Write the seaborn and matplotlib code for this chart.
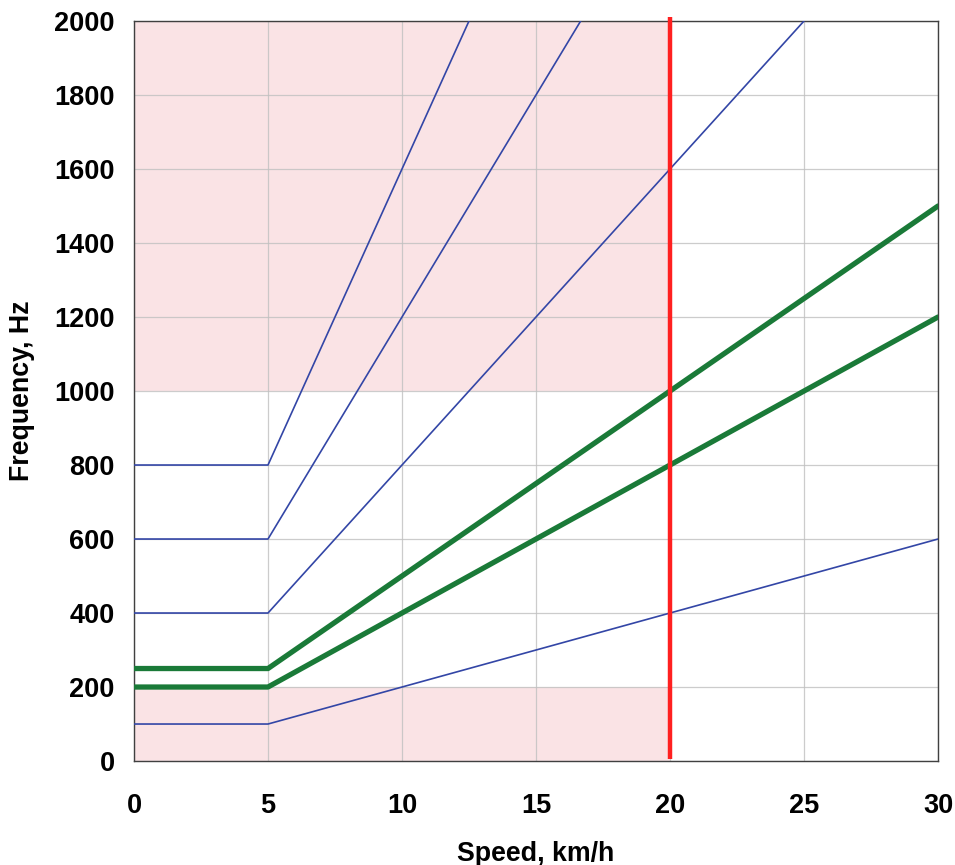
import numpy as np
import pandas as pd
import matplotlib
matplotlib.use("Agg")
import matplotlib.pyplot as plt
import seaborn as sns

# Speed break points (km/h) and frequency of each harmonic line (Hz)
speed = [0, 5, 30]
blue_series = {
    "h8": [800, 800, 4800],
    "h6": [600, 600, 3600],
    "h4": [400, 400, 2400],
    "h1": [100, 100, 600],
}
green_series = {
    "g25": [250, 250, 1500],
    "g2": [200, 200, 1200],
}
x_ticks = [0, 5, 10, 15, 20, 25, 30]
y_ticks = [0, 200, 400, 600, 800, 1000, 1200, 1400, 1600, 1800, 2000]
speed_limit = 20
band_low = (0, 200)
band_high = (1000, 2000)

rows = []
for name, vals in {**blue_series, **green_series}.items():
    for s, f in zip(speed, vals):
        rows.append({"speed": s, "freq": f, "line": name,
                     "kind": "green" if name in green_series else "blue"})
df = pd.DataFrame(rows)

sns.set_theme(style="white")
plt.rcParams["font.family"] = ["Liberation Sans", "DejaVu Sans"]
plt.rcParams["text.color"] = "black"
plt.rcParams["xtick.color"] = "black"
plt.rcParams["ytick.color"] = "black"
plt.rcParams["axes.labelcolor"] = "black"

fig = plt.figure(figsize=(9.55, 8.65), dpi=100)
ax = fig.add_axes([0.1403, 0.1202, 0.8419, 0.8555])

pink = "#fae3e5"
ax.fill_between([0, speed_limit], band_high[0], band_high[1], color=pink, lw=0, zorder=0)
ax.fill_between([0, speed_limit], band_low[0], band_low[1], color=pink, lw=0, zorder=0)

for y in y_ticks:
    ax.axhline(y, color="#c0c0c0", lw=0.9, alpha=0.8, zorder=1)
for x in x_ticks:
    ax.axvline(x, color="#c0c0c0", lw=0.9, alpha=0.8, zorder=1)

sns.lineplot(data=df[df.kind == "blue"], x="speed", y="freq", units="line",
             estimator=None, color="#3346a6", lw=1.2, ax=ax, zorder=3)
sns.lineplot(data=df[df.kind == "green"], x="speed", y="freq", units="line",
             estimator=None, color="#1a7a38", lw=3.8, ax=ax, zorder=4)

# speed limit marker, running a little past the top of the frame
ax.plot([speed_limit, speed_limit], [5, 2010], color="#ff2020", lw=3.2,
        zorder=5, clip_on=False, solid_capstyle="butt")

ax.set_xlim(0, 30)
ax.set_ylim(0, 2000)
ax.set_xticks(x_ticks)
ax.set_yticks(y_ticks)
ax.tick_params(axis="both", which="major", direction="out", length=8, width=1,
               color="#404040", labelsize=19.5, pad=6, labelcolor="black")
ax.tick_params(axis="x", pad=15)
for lab in ax.get_xticklabels() + ax.get_yticklabels():
    lab.set_fontweight("bold")
for sp in ax.spines.values():
    sp.set_color("#404040")
    sp.set_linewidth(1.0)
ax.grid(False)

ax.set_xlabel("Speed, km/h", fontsize=19.3, fontweight="bold", color="black")
ax.set_ylabel("Frequency, Hz", fontsize=19.3, fontweight="bold", color="black")
ax.xaxis.set_label_coords(0.5, -0.108)
ax.yaxis.set_label_coords(-0.123, 0.5)

fig.savefig("out.png", dpi=100, facecolor="white")
